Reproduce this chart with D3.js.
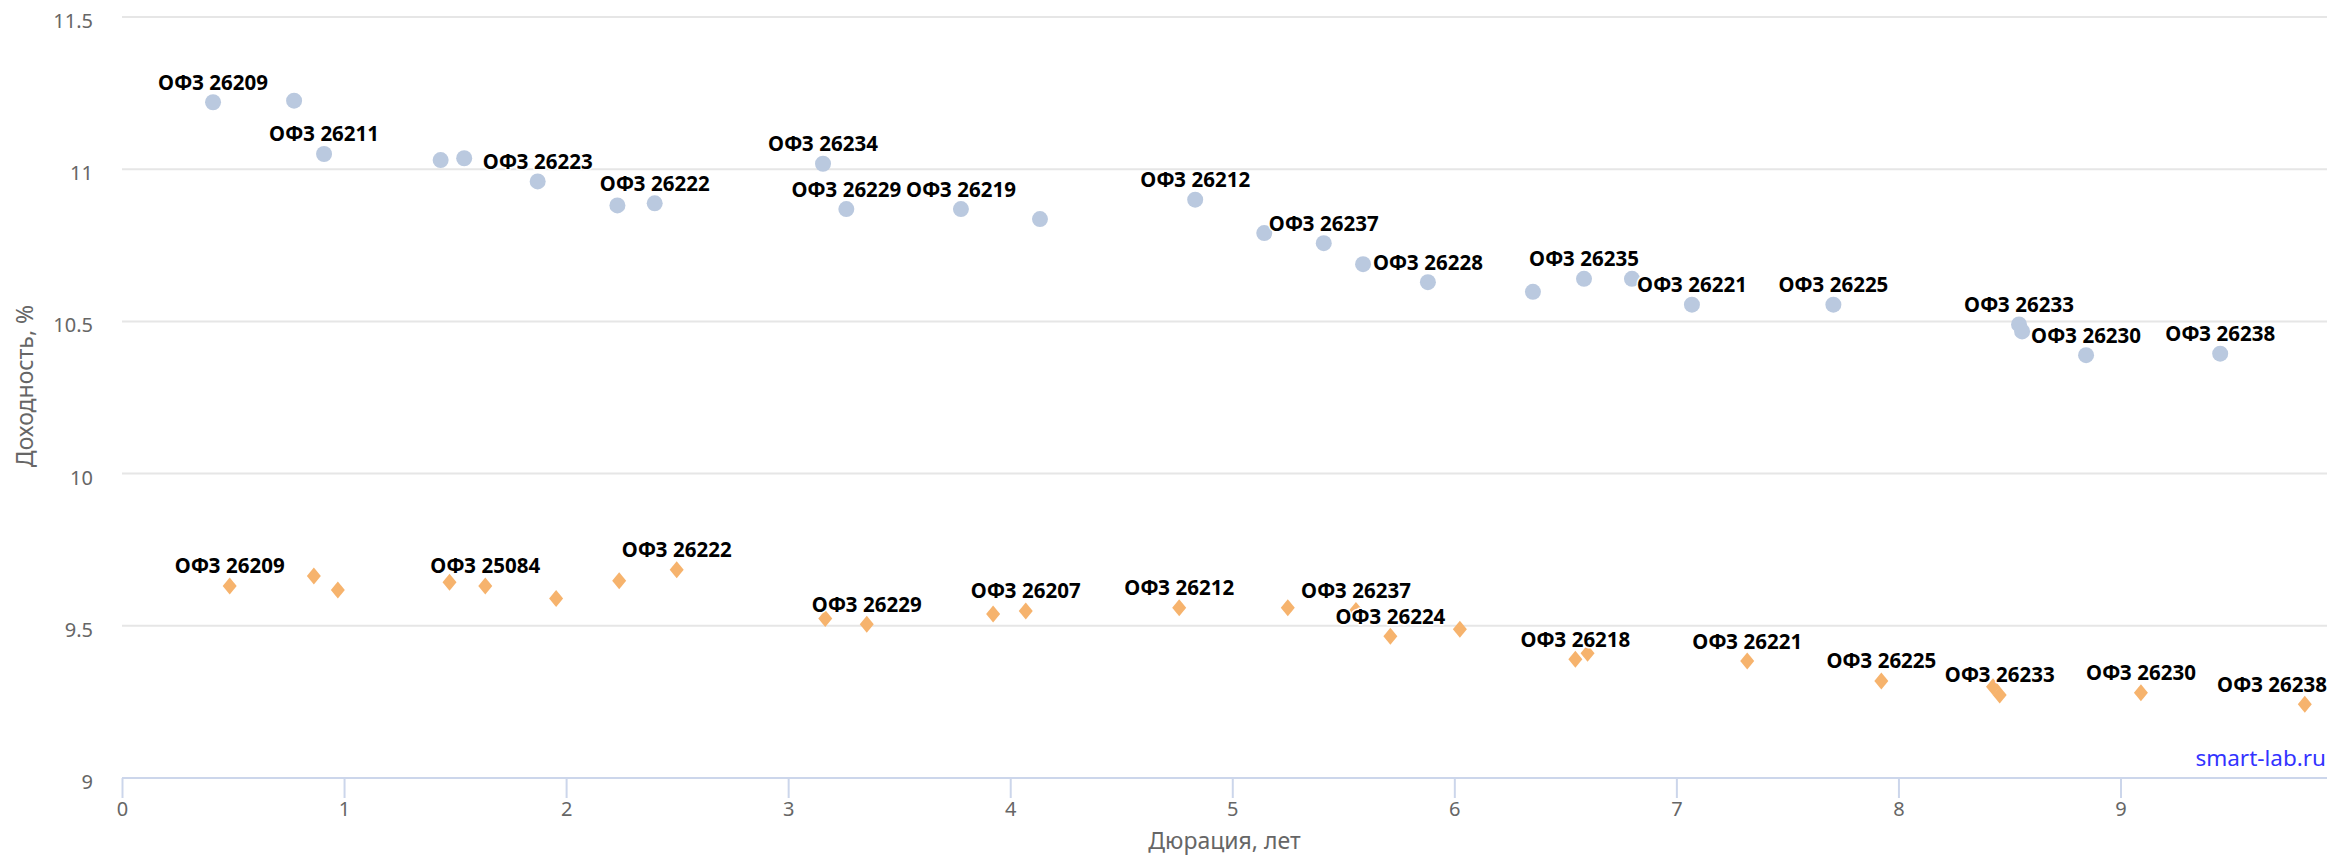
<!DOCTYPE html>
<meta charset="utf-8">
<style>
body { margin: 0; background: #fff; }
text { font-family: "Noto Sans", sans-serif; }
.tick text { fill: #666; font-size: 20px; }
.title { fill: #666; font-size: 23px; }
.lbl { font-size: 20.5px; font-weight: bold; fill: #000; stroke: #fff; stroke-width: 3px; stroke-linejoin: round; paint-order: stroke; }
</style>
<svg width="2331" height="860"></svg>
<script src="https://d3js.org/d3.v7.min.js"></script>
<script>

// ОФЗ, series 1 (circles)
var circDur = [0.41, 0.775, 0.91, 1.435, 1.541, 1.872, 2.231, 2.399, 3.157, 3.262, 3.778, 4.134, 4.833,
  5.144, 5.412, 5.589, 5.881, 6.354, 6.584, 6.80, 7.07, 7.707, 8.543, 8.557, 8.845, 9.449];
var circYld = [11.22, 11.225, 11.05, 11.03, 11.036, 10.96, 10.881, 10.888, 11.018, 10.869, 10.869, 10.836, 10.90,
  10.79, 10.757, 10.688, 10.629, 10.597, 10.64, 10.64, 10.555, 10.555, 10.49, 10.467, 10.389, 10.394];
var circName = ["ОФЗ 26209", "", "ОФЗ 26211", "", "", "ОФЗ 26223", "", "ОФЗ 26222", "ОФЗ 26234", "ОФЗ 26229", "ОФЗ 26219", "", "ОФЗ 26212",
  "", "ОФЗ 26237", "", "ОФЗ 26228", "", "ОФЗ 26235", "", "ОФЗ 26221", "ОФЗ 26225", "ОФЗ 26233", "", "ОФЗ 26230", "ОФЗ 26238"];

// series 2 (diamonds)
var diaDur = [0.485, 0.864, 0.972, 1.475, 1.636, 1.955, 2.239, 2.498, 3.167, 3.354, 3.923, 4.07, 4.761, 5.25,
  5.557, 5.712, 6.025, 6.545, 6.60, 7.319, 7.923, 8.426, 8.456, 9.092, 9.83];
var diaYld = [9.631, 9.664, 9.618, 9.643, 9.631, 9.59, 9.648, 9.684, 9.524, 9.505, 9.539, 9.549, 9.559, 9.559,
  9.55, 9.466, 9.489, 9.39, 9.41, 9.384, 9.319, 9.30, 9.273, 9.28, 9.242];
var diaName = ["ОФЗ 26209", "", "", "", "ОФЗ 25084", "", "", "ОФЗ 26222", "", "ОФЗ 26229", "", "ОФЗ 26207", "ОФЗ 26212", "",
  "ОФЗ 26237", "ОФЗ 26224", "", "ОФЗ 26218", "", "ОФЗ 26221", "ОФЗ 26225", "", "ОФЗ 26233", "ОФЗ 26230", "ОФЗ 26238"];

var xTicks = [0, 1, 2, 3, 4, 5, 6, 7, 8, 9];
var yTicks = [9, 9.5, 10, 10.5, 11, 11.5];

var svg = d3.select("svg"),
    plotL = 122, plotR = 2327, plotT = 17, plotB = 778;

var x = d3.scaleLinear().domain([0, 9.93]).range([plotL, plotR]);
var y = d3.scaleLinear().domain([9, 11.5]).range([plotB, plotT]);

// grid
svg.append("g").selectAll("line")
  .data(yTicks.filter(function(d) { return d > 9; }))
  .enter().append("line")
    .attr("x1", plotL).attr("x2", plotR)
    .attr("y1", function(d) { return y(d); }).attr("y2", function(d) { return y(d); })
    .attr("stroke", "#e6e6e6").attr("stroke-width", 2);

// y axis labels
var ya = svg.append("g").attr("transform", "translate(" + plotL + ",0)")
  .call(d3.axisLeft(y).tickValues(yTicks).tickSize(0).tickPadding(29).tickFormat(d3.format("")));
ya.select(".domain").remove();
ya.selectAll("text").attr("dy", "0.82em").attr("y", -6);

// x axis
var xa = svg.append("g").attr("transform", "translate(0," + plotB + ")")
  .call(d3.axisBottom(x).tickValues(xTicks).tickSize(20).tickPadding(4));
xa.select(".domain").attr("stroke", "#ccd6eb").attr("stroke-width", 2).attr("d", "M" + plotL + ",0H" + plotR);
xa.selectAll(".tick line").attr("stroke", "#ccd6eb").attr("stroke-width", 2);

svg.append("text").attr("class", "title")
  .attr("x", (plotL + plotR) / 2).attr("y", 849).attr("text-anchor", "middle")
  .text("Дюрация, лет");
svg.append("text").attr("class", "title")
  .attr("transform", "translate(33,386) rotate(-90)")
  .attr("text-anchor", "middle")
  .text("Доходность, %");

svg.append("text")
  .attr("x", 2326).attr("y", 766).attr("text-anchor", "end")
  .attr("fill", "#3333ff").style("font-size", "22.5px")
  .text("smart-lab.ru");

var circ = circDur.map(function(d, i) { return {x: d, y: circYld[i], name: circName[i]}; });
var dia = diaDur.map(function(d, i) { return {x: d, y: diaYld[i], name: diaName[i]}; });

svg.append("g").selectAll("circle")
  .data(circ)
  .enter().append("circle")
    .attr("cx", function(d) { return x(d.x); })
    .attr("cy", function(d) { return y(d.y); })
    .attr("r", 8)
    .attr("fill", "#bac9df");

svg.append("g").selectAll("path")
  .data(dia)
  .enter().append("path")
    .attr("transform", function(d) { return "translate(" + x(d.x) + "," + y(d.y) + ")"; })
    .attr("d", "M0,-8.5L7,0L0,8.5L-7,0Z")
    .attr("fill", "#f6b36d");

// data labels, kept inside the plot like the original
var labels = svg.append("g").selectAll("text")
  .data(circ.concat(dia).filter(function(d) { return d.name; }))
  .enter().append("text")
    .attr("class", "lbl")
    .attr("text-anchor", "middle")
    .attr("x", function(d) { return x(d.x); })
    .attr("y", function(d) { return y(d.y) - 12.5; })
    .text(function(d) { return d.name; });

labels.each(function(d) {
  var w = this.getComputedTextLength(), cx = x(d.x);
  if (cx + w / 2 > plotR) d3.select(this).attr("x", plotR - w / 2);
  if (cx - w / 2 < plotL) d3.select(this).attr("x", plotL + w / 2);
});

</script>
